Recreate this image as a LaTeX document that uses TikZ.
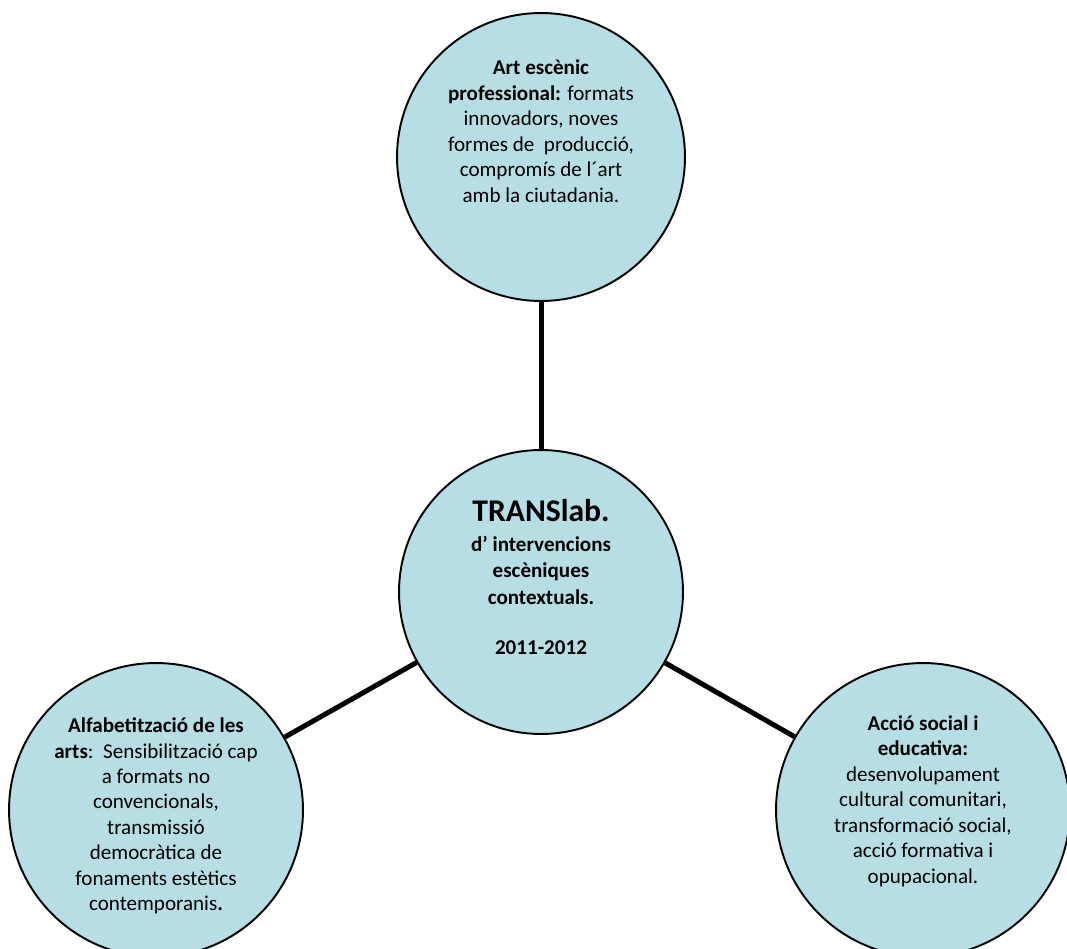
\documentclass[tikz,border=0pt]{standalone}
\usepackage{fontspec}
\setmainfont{Carlito}
\definecolor{bleu}{RGB}{183,222,228}

\begin{document}
\begin{tikzpicture}[x=0.02cm,y=0.02cm,
  bulle/.style={circle,draw,line width=1.1pt,fill=bleu,inner sep=0pt},
  texte/.style={align=center,font=\fontsize{12}{14.5}\selectfont},
  lien/.style={line width=2.85pt}]
\useasboundingbox (0,0) rectangle (1067,948);
\clip (0,0) rectangle (1067,948);

\node [bulle,minimum size=5.76cm] (haut) at (541,791) {};
\node [bulle,minimum size=5.68cm] (centre) at (541,356) {};
\node [bulle,minimum size=5.88cm] (gauche) at (156,138) {};
\node [bulle,minimum size=5.88cm] (droite) at (923,138) {};

\draw [lien] (centre) -- (haut);
\draw [lien] (centre) -- (gauche);
\draw [lien] (centre) -- (droite);

\node [texte] (thaut) at ([yshift=14.8pt]haut.center) {\textbf{Art escènic}\\
  \textbf{professional:} formats\\ innovadors, noves\\ formes de\ \ producció,\\
  compromís de l´art\\ amb la ciutadania.};
\node [texte,font=\bfseries\fontsize{12}{15.2}\selectfont] (tcentre) at ([yshift=8.5pt]centre.center)
  {{\fontsize{18}{18}\selectfont TRANSlab.}\\[1.5pt] d’ intervencions\\ escèniques\\ contextuals.\\[13pt] 2011-2012};
\node [texte] (tgauche) at ([yshift=-3.4pt]gauche.center) {\textbf{Alfabetització de les}\\
  \textbf{arts}:\ \ Sensibilització cap\\ a formats no\\ convencionals,\\ transmissió\\
  democràtica de\\ fonaments estètics\\ contemporanis\textbf{.}};
\node [texte] (tdroite) at ([yshift=5pt]droite.center) {\textbf{Acció social i}\\
  \textbf{educativa:}\\ desenvolupament\\ cultural comunitari,\\ transformació social,\\
  acció formativa i\\ opupacional.};

\end{tikzpicture}
\end{document}
